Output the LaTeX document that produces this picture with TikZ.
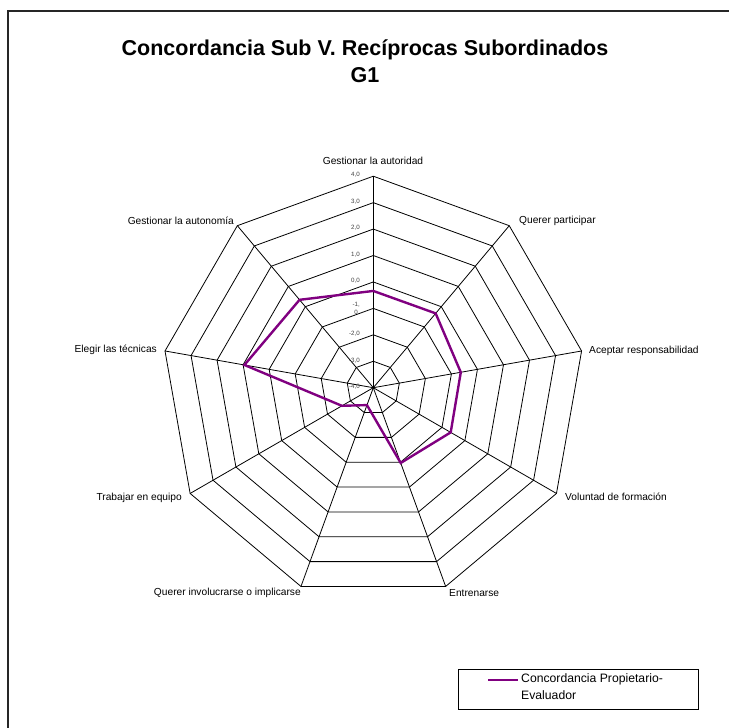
\documentclass[tikz,border=0pt]{standalone}
\usepackage{fontspec}
\setmainfont{Liberation Sans}
\definecolor{seriespurple}{RGB}{128,0,128}
\begin{document}
\begin{tikzpicture}[x=1pt,y=-1pt,
  grid/.style={black, line width=0.8pt, line join=miter},
  series/.style={draw=seriespurple, line width=2.4pt, line join=miter},
  axislabel/.style={inner sep=0pt, font=\fontsize{10.2}{11}\selectfont},
  ticklabel/.style={inner sep=0pt, text=black!75, anchor=east, align=center,
    font=\fontsize{6.2}{8.5}\selectfont},
  titlelabel/.style={inner sep=0pt, align=center, font=\fontsize{21.5}{27}\selectfont\bfseries},
  legendtext/.style={inner sep=0pt, align=left, anchor=north west,
    font=\fontsize{12.2}{17}\selectfont},
]
\useasboundingbox (0,0) rectangle (728,728);

% chart frame (left and top edges)
\draw[line width=1.6pt, black!85] (8,729) -- (8,11) -- (729,11);

% title
\node[titlelabel] (title) at (365,61) {Concordancia Sub V. Recíprocas Subordinados\\G1};

% radar grid
\begin{scope}[shift={(373.3,387.7)}, x=1pt, y=1pt]
  \coordinate (c) at (0,0);
  \foreach \k in {1,...,8}
    \draw[grid] (90:\k*26.4375) \foreach \i in {1,...,8} {-- (90-40*\i:\k*26.4375)} -- cycle;
  \foreach \i in {0,...,8} {
    \coordinate (v\i) at (90-40*\i:211.5);
    \draw[grid] (c) -- (v\i);
  }
  % data series
  \foreach \v [count=\i from 0] in {-0.34,-0.33,-0.64,-0.62,-0.97,-3.30,-2.63,0.95,0.34}
    \coordinate (p\i) at (90-40*\i:{(\v+4)*26.4375});
  \draw[series] (p0) -- (p1) -- (p2) -- (p3) -- (p4) -- (p5) -- (p6) -- (p7) -- (p8) -- cycle;
\end{scope}
\fill (c) circle (1.2pt);

% scale labels
\node[ticklabel] (t8) at (360,175.2) {4,0};
\node[ticklabel] (t7) at (360,201.6) {3,0};
\node[ticklabel] (t6) at (360,228.1) {2,0};
\node[ticklabel] (t5) at (360,254.5) {1,0};
\node[ticklabel] (t4) at (360,281.0) {0,0};
\node[ticklabel] (t3) at (360,308.4) {-1,\\0};
\node[ticklabel] (t2) at (360,333.8) {-2,0};
\node[ticklabel] (t1) at (360,360.3) {-3,0};
\node[ticklabel] (t0) at (360,386.7) {-4,0};

% axis labels
\node[axislabel, anchor=center] (a0) at (373,161) {Gestionar la autoridad};
\node[axislabel, anchor=west] (a1) at (519,221) {Querer participar};
\node[axislabel, anchor=west] (a2) at (589,351) {Aceptar responsabilidad};
\node[axislabel, anchor=west] (a3) at (565,497) {Voluntad de formación};
\node[axislabel, anchor=west] (a4) at (449,593) {Entrenarse};
\node[axislabel, anchor=east] (a5) at (301,593) {Querer involucrarse o implicarse};
\node[axislabel, anchor=east] (a6) at (182,498) {Trabajar en equipo};
\node[axislabel, anchor=east] (a7) at (157,350) {Elegir las técnicas};
\node[axislabel, anchor=east] (a8) at (234,221) {Gestionar la autonomía};

% legend
\draw[line width=0.8pt] (458,669) rectangle (698,709);
\coordinate (ls) at (488,680);
\coordinate (le) at (518,680);
\draw[series] (ls) -- (le);
\node[legendtext] (lt) at (521,673) {Concordancia Propietario-\\Evaluador};
\end{tikzpicture}
\end{document}
